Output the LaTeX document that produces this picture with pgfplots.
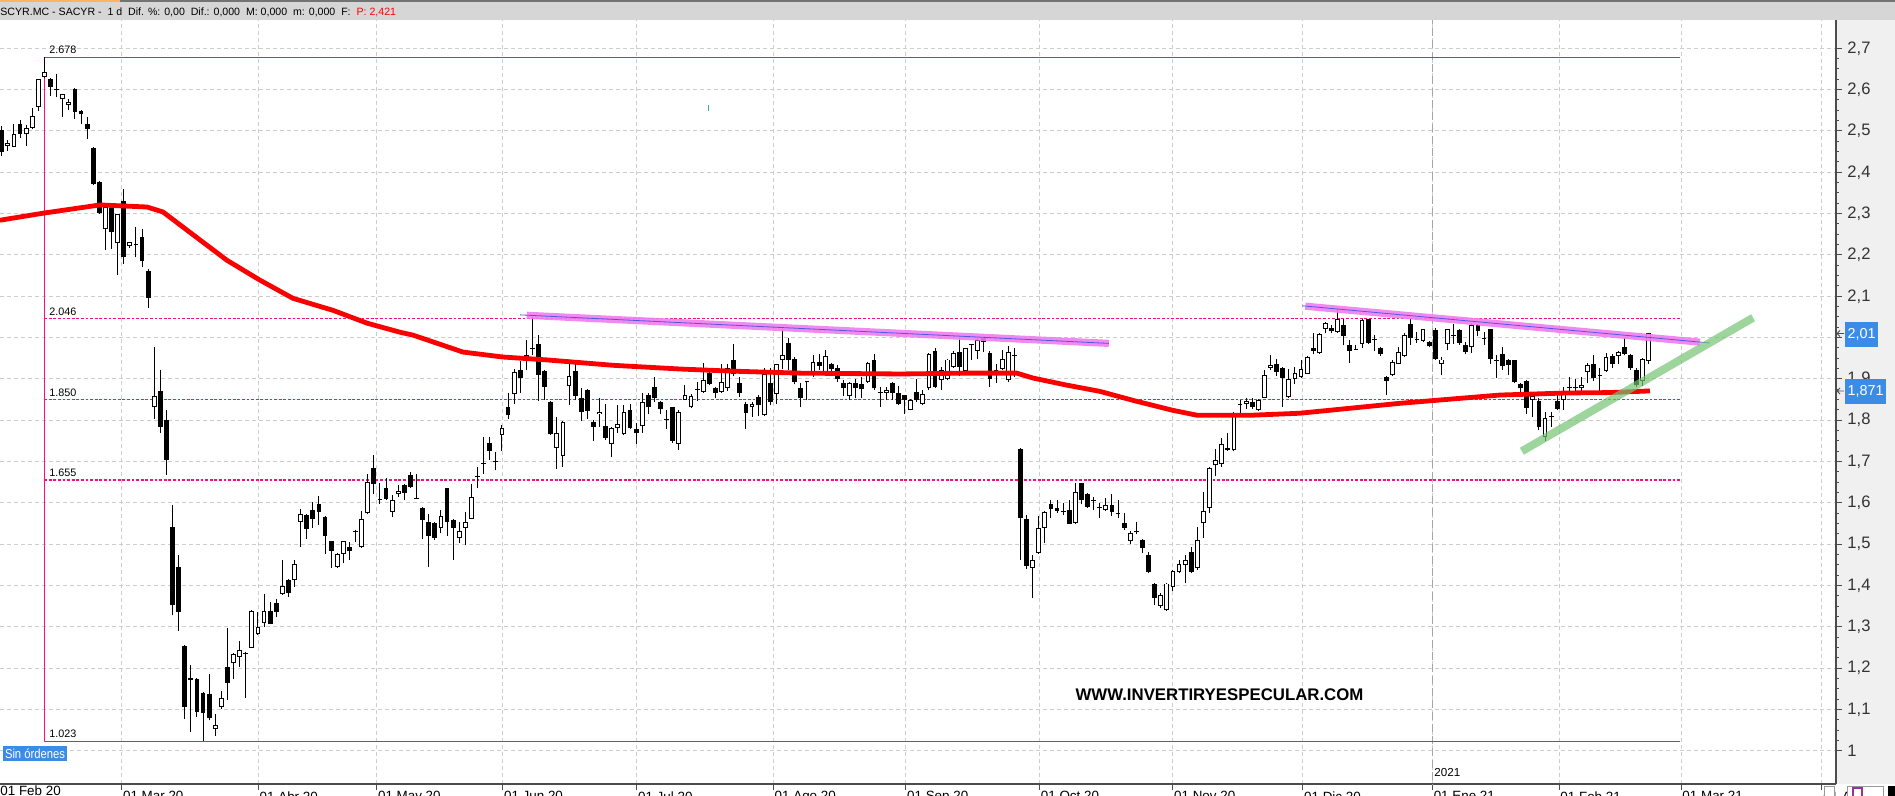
\documentclass[border=0pt]{standalone}
\usepackage{pgfplots}
\pgfplotsset{compat=1.18}
\usepackage{pgfplotstable}
\usepackage{fontspec}
\setmainfont{Liberation Sans}
\definecolor{mag}{RGB}{255,10,135}
\definecolor{gridc}{RGB}{205,205,205}
\definecolor{maR}{RGB}{250,0,0}
\definecolor{trpink}{RGB}{238,125,238}
\definecolor{trline}{RGB}{85,85,225}
\definecolor{trgreen}{RGB}{115,195,115}
\definecolor{boxblue}{RGB}{58,140,230}
\definecolor{panel}{RGB}{240,240,240}
\definecolor{hdr}{RGB}{214,214,214}

\pgfplotstableread{
i o h l c
1 2.502 2.512 2.439 2.450
2 2.463 2.478 2.452 2.470
3 2.462 2.518 2.460 2.492
4 2.516 2.526 2.482 2.492
5 2.492 2.514 2.463 2.506
6 2.508 2.555 2.504 2.536
7 2.559 2.625 2.549 2.625
8 2.630 2.678 2.628 2.642
9 2.625 2.627 2.584 2.607
10 2.601 2.639 2.581 2.599
11 2.577 2.589 2.534 2.589
12 2.564 2.577 2.551 2.570
13 2.601 2.603 2.530 2.546
14 2.548 2.551 2.518 2.540
15 2.516 2.533 2.480 2.504
16 2.458 2.460 2.369 2.371
17 2.376 2.378 2.300 2.302
18 2.262 2.325 2.213 2.317
19 2.313 2.325 2.215 2.256
20 2.228 2.300 2.151 2.300
21 2.331 2.359 2.179 2.194
22 2.222 2.232 2.217 2.232
23 2.226 2.268 2.194 2.224
24 2.244 2.262 2.171 2.186
25 2.161 2.165 2.072 2.096
26 1.831 1.977 1.804 1.858
27 1.870 1.921 1.768 1.784
28 1.800 1.824 1.667 1.703
29 1.542 1.594 1.328 1.352
30 1.445 1.473 1.291 1.336
31 1.253 1.255 1.078 1.106
32 1.176 1.207 1.045 1.172
33 1.174 1.176 1.082 1.094
34 1.140 1.142 1.024 1.091
35 1.137 1.187 1.074 1.080
36 1.054 1.090 1.037 1.062
37 1.106 1.144 1.102 1.128
38 1.203 1.298 1.122 1.164
39 1.212 1.237 1.174 1.235
40 1.228 1.267 1.203 1.243
41 1.236 1.239 1.128 1.234
42 1.250 1.340 1.250 1.338
43 1.283 1.336 1.281 1.299
44 1.309 1.379 1.299 1.338
45 1.338 1.360 1.306 1.308
46 1.359 1.368 1.324 1.336
47 1.380 1.463 1.378 1.400
48 1.414 1.416 1.372 1.382
49 1.414 1.461 1.396 1.451
50 1.554 1.586 1.493 1.572
51 1.570 1.572 1.513 1.538
52 1.582 1.602 1.540 1.562
53 1.598 1.616 1.546 1.578
54 1.566 1.568 1.477 1.521
55 1.507 1.509 1.443 1.484
56 1.446 1.479 1.443 1.477
57 1.477 1.509 1.454 1.507
58 1.493 1.505 1.461 1.484
59 1.531 1.534 1.505 1.529
60 1.493 1.580 1.491 1.560
61 1.575 1.669 1.573 1.650
62 1.685 1.715 1.622 1.645
63 1.610 1.647 1.597 1.608
64 1.637 1.661 1.606 1.610
65 1.578 1.618 1.566 1.608
66 1.621 1.643 1.614 1.630
67 1.643 1.646 1.608 1.624
68 1.667 1.675 1.637 1.639
69 1.611 1.669 1.609 1.609
70 1.588 1.590 1.513 1.559
71 1.554 1.574 1.446 1.519
72 1.551 1.553 1.511 1.516
73 1.540 1.584 1.526 1.568
74 1.635 1.637 1.521 1.554
75 1.559 1.561 1.463 1.540
76 1.516 1.554 1.503 1.532
77 1.540 1.578 1.497 1.554
78 1.562 1.645 1.560 1.614
79 1.665 1.687 1.635 1.663
80 1.696 1.759 1.671 1.694
81 1.745 1.759 1.705 1.726
82 1.700 1.723 1.679 1.698
83 1.764 1.788 1.726 1.782
84 1.831 1.866 1.804 1.812
85 1.863 1.925 1.839 1.917
86 1.921 1.944 1.865 1.903
87 1.945 1.995 1.922 1.957
88 1.975 2.050 1.957 1.973
89 1.984 2.006 1.847 1.909
90 1.919 1.921 1.850 1.881
91 1.844 1.846 1.764 1.766
92 1.734 1.808 1.683 1.769
93 1.713 1.798 1.687 1.796
94 1.882 1.937 1.836 1.907
95 1.919 1.937 1.848 1.858
96 1.855 1.877 1.798 1.820
97 1.873 1.875 1.804 1.823
98 1.796 1.800 1.750 1.784
99 1.814 1.855 1.784 1.819
100 1.785 1.840 1.753 1.756
101 1.743 1.784 1.710 1.782
102 1.782 1.836 1.769 1.790
103 1.766 1.836 1.764 1.820
104 1.826 1.839 1.780 1.782
105 1.780 1.793 1.742 1.768
106 1.785 1.865 1.769 1.844
107 1.860 1.865 1.815 1.831
108 1.881 1.905 1.844 1.853
109 1.844 1.846 1.815 1.828
110 1.803 1.826 1.780 1.801
111 1.831 1.833 1.745 1.750
112 1.743 1.826 1.727 1.820
113 1.850 1.885 1.848 1.860
114 1.831 1.863 1.829 1.858
115 1.875 1.893 1.847 1.873
116 1.868 1.939 1.866 1.898
117 1.914 1.927 1.885 1.887
118 1.877 1.881 1.855 1.866
119 1.868 1.936 1.866 1.893
120 1.879 1.936 1.871 1.927
121 1.947 1.984 1.906 1.911
122 1.890 1.905 1.856 1.865
123 1.840 1.844 1.780 1.818
124 1.831 1.844 1.808 1.840
125 1.856 1.860 1.810 1.836
126 1.812 1.927 1.810 1.911
127 1.889 1.927 1.836 1.844
128 1.863 1.937 1.839 1.935
129 1.947 2.022 1.925 1.957
130 1.987 2.000 1.922 1.947
131 1.949 1.953 1.887 1.893
132 1.879 1.890 1.831 1.855
133 1.894 1.895 1.848 1.892
134 1.909 1.957 1.905 1.941
135 1.941 1.960 1.922 1.931
136 1.917 1.971 1.915 1.955
137 1.937 1.939 1.914 1.925
138 1.927 1.933 1.893 1.901
139 1.889 1.897 1.858 1.877
140 1.858 1.893 1.848 1.890
141 1.889 1.901 1.853 1.877
142 1.887 1.905 1.855 1.875
143 1.893 1.941 1.891 1.939
144 1.947 1.960 1.873 1.877
145 1.869 1.881 1.832 1.867
146 1.866 1.881 1.848 1.873
147 1.889 1.893 1.850 1.865
148 1.866 1.882 1.837 1.839
149 1.860 1.862 1.815 1.848
150 1.826 1.852 1.824 1.850
151 1.868 1.901 1.844 1.848
152 1.840 1.873 1.838 1.863
153 1.877 1.962 1.874 1.960
154 1.968 1.976 1.879 1.881
155 1.898 1.929 1.873 1.922
156 1.901 1.949 1.897 1.947
157 1.929 1.968 1.927 1.962
158 1.965 1.998 1.906 1.929
159 1.919 1.976 1.917 1.974
160 1.983 1.985 1.947 1.981
161 1.968 1.998 1.949 1.995
162 1.998 2.000 1.965 1.990
163 1.962 1.968 1.881 1.901
164 1.920 1.937 1.889 1.918
165 1.925 1.971 1.922 1.949
166 1.898 1.979 1.893 1.965
167 1.958 1.974 1.905 1.956
168 1.731 1.733 1.463 1.564
169 1.562 1.570 1.441 1.447
170 1.443 1.473 1.371 1.463
171 1.479 1.568 1.477 1.540
172 1.540 1.580 1.503 1.578
173 1.598 1.608 1.564 1.586
174 1.588 1.608 1.575 1.580
175 1.579 1.600 1.570 1.577
176 1.584 1.608 1.548 1.550
177 1.551 1.648 1.549 1.626
178 1.647 1.649 1.598 1.606
179 1.621 1.623 1.588 1.590
180 1.607 1.614 1.584 1.605
181 1.589 1.600 1.564 1.587
182 1.584 1.613 1.580 1.595
183 1.594 1.621 1.568 1.578
184 1.575 1.608 1.564 1.573
185 1.551 1.576 1.534 1.540
186 1.508 1.532 1.500 1.526
187 1.531 1.554 1.524 1.529
188 1.511 1.513 1.479 1.492
189 1.475 1.481 1.430 1.433
190 1.405 1.407 1.352 1.371
191 1.350 1.382 1.346 1.376
192 1.340 1.407 1.338 1.405
193 1.396 1.437 1.387 1.435
194 1.433 1.461 1.431 1.451
195 1.449 1.473 1.406 1.463
196 1.481 1.493 1.431 1.433
197 1.443 1.542 1.438 1.511
198 1.551 1.626 1.516 1.580
199 1.588 1.687 1.575 1.685
200 1.691 1.731 1.664 1.705
201 1.693 1.756 1.687 1.742
202 1.734 1.768 1.726 1.729
203 1.727 1.820 1.725 1.816
204 1.840 1.848 1.812 1.838
205 1.839 1.855 1.828 1.847
206 1.844 1.855 1.828 1.833
207 1.824 1.852 1.822 1.848
208 1.855 1.922 1.853 1.909
209 1.927 1.957 1.922 1.933
210 1.937 1.949 1.906 1.917
211 1.927 1.929 1.833 1.903
212 1.856 1.925 1.854 1.901
213 1.901 1.929 1.887 1.914
214 1.905 1.945 1.903 1.925
215 1.913 1.955 1.911 1.953
216 1.976 2.010 1.960 1.968
217 1.962 2.010 1.960 2.008
218 2.022 2.038 2.010 2.036
219 2.024 2.030 2.010 2.016
220 2.014 2.069 2.011 2.044
221 2.030 2.044 1.982 2.003
222 1.982 1.995 1.939 1.968
223 1.973 1.982 1.969 1.971
224 1.984 2.044 1.974 2.042
225 2.044 2.046 1.984 1.987
226 1.996 2.006 1.968 1.994
227 1.976 1.978 1.955 1.960
228 1.905 1.907 1.861 1.896
229 1.909 1.945 1.906 1.941
230 1.937 1.977 1.935 1.965
231 1.955 2.010 1.953 2.006
232 2.034 2.044 1.982 1.998
233 1.996 2.014 1.987 1.994
234 1.992 2.022 1.990 2.020
235 1.990 1.992 1.977 1.979
236 2.018 2.024 1.947 1.949
237 1.937 1.952 1.909 1.947
238 1.984 2.022 1.971 2.020
239 2.007 2.032 1.985 2.005
240 2.018 2.020 1.982 1.987
241 1.982 1.990 1.960 1.965
242 1.977 2.036 1.963 2.030
243 2.030 2.034 2.003 2.016
244 1.999 2.014 1.982 1.997
245 2.020 2.022 1.937 1.949
246 1.947 1.957 1.902 1.944
247 1.960 1.977 1.922 1.931
248 1.947 1.949 1.909 1.933
249 1.945 1.947 1.890 1.893
250 1.887 1.889 1.868 1.877
251 1.895 1.897 1.816 1.830
252 1.848 1.866 1.808 1.858
253 1.847 1.855 1.777 1.784
254 1.759 1.820 1.750 1.806
255 1.810 1.820 1.784 1.808
256 1.847 1.865 1.824 1.828
257 1.850 1.881 1.824 1.865
258 1.880 1.905 1.865 1.878
259 1.879 1.901 1.865 1.877
260 1.877 1.905 1.868 1.885
261 1.917 1.939 1.889 1.933
262 1.937 1.957 1.896 1.903
263 1.910 1.927 1.871 1.908
264 1.919 1.963 1.917 1.953
265 1.955 1.960 1.927 1.936
266 1.955 1.968 1.936 1.965
267 1.977 1.998 1.957 1.960
268 1.957 1.960 1.921 1.927
269 1.921 1.927 1.881 1.885
270 1.895 1.951 1.882 1.949
271 1.944 2.012 1.937 2.010
}\candles

\begin{document}
\begin{tikzpicture}
\begin{scope}[x=0.5pt,y=-0.5pt]
\fill[panel] (1836,20) rectangle (1895,784);
\end{scope}
\begin{axis}[
  at={(0pt,-392pt)}, anchor=south west,
  scale only axis, width=918pt, height=382pt,
  xmin=0.721, xmax=301.70, ymin=0.91986, ymax=2.7685,
  axis x line=bottom, axis y line=right,
  axis line style={-, black!70, line width=0.6pt},
  tick align=outside,
  major tick length=3pt, minor tick length=1.5pt,
  tick style={black!70, line width=0.5pt},
  minor y tick num=3,
  ytick={1,1.1,1.2,1.3,1.4,1.5,1.6,1.7,1.8,1.9,2,2.1,2.2,2.3,2.4,2.5,2.6,2.7},
  /pgf/number format/fixed,
  /pgf/number format/precision=1,
  /pgf/number format/use comma,
  /pgf/number format/assume math mode=true,
  yticklabel style={font=\fontsize{8.3}{9}\selectfont, text=black!80, anchor=west, inner sep=0pt, xshift=2.5pt},
  xtick={20.67,43.07,62.47,83.13,105.1,127.49,149.2,171.13,192.97,214.28,235.53,256.3,276.3,299.4},
  xticklabels={01 Mar 20,01 Abr 20,01 May 20,01 Jun 20,01 Jul 20,01 Ago 20,01 Sep 20,01 Oct 20,01 Nov 20,01 Dic 20,01 Ene 21,01 Feb 21,01 Mar 21,01 Abr 21},
  xticklabel style={font=\fontsize{6.7}{7}\selectfont, anchor=north west, inner sep=0pt, xshift=0.5pt, yshift=-0.5pt},
  xmajorgrids, ymajorgrids,
  major grid style={gridc, dash pattern=on 2pt off 1.5pt, line width=0.5pt},
]
% year separator
\addplot[black!35, dash pattern=on 4pt off 2pt, line width=0.5pt] coordinates {(235.53,0.9) (235.53,2.8)};
% magenta levels
\addplot[mag, line width=0.75pt] coordinates {(7.98,2.678) (276.1,2.678)};
\addplot[mag, line width=0.75pt] coordinates {(7.98,1.023) (276.1,1.023)};
\addplot[mag, line width=0.75pt] coordinates {(7.98,1.023) (7.98,2.678)};
\addplot[mag, line width=0.7pt, dash pattern=on 1.4pt off 0.9pt] coordinates {(7.98,2.046) (276.1,2.046)};
\addplot[mag, line width=0.7pt, dash pattern=on 1.4pt off 0.9pt] coordinates {(7.98,1.850) (276.1,1.850)};
\addplot[mag, line width=0.7pt, dash pattern=on 1.4pt off 0.9pt] coordinates {(7.98,1.655) (276.1,1.655)};
\addplot[teal!70, line width=0.5pt] coordinates {(116.8,2.563) (116.8,2.548)};
% wicks
\addplot[draw=none, mark=none, error bars/.cd, y dir=plus, y explicit, error mark=none,
  error bar style={draw=black, line width=0.5pt, solid}]
  table[x=i, y=l, y error plus expr={\thisrow{h}-\thisrow{l}}] {\candles};
% bodies
\addplot[draw=none, mark=none, error bars/.cd, y dir=plus, y explicit, error mark=none,
  error bar style={draw=black, line width=2.4pt, line cap=butt, solid}]
  table[x=i, y expr={min(\thisrow{o},\thisrow{c})}, y error plus expr={max(abs(\thisrow{c}-\thisrow{o}),0.0025)}] {\candles};
% hollow inside
\addplot[draw=none, mark=none, error bars/.cd, y dir=plus, y explicit, error mark=none,
  error bar style={draw=white, line width=1.4pt, line cap=butt, solid}]
  table[x=i, y expr={\thisrow{o}+0.0024}, y error plus expr={max(\thisrow{c}-\thisrow{o}-0.0048,0)}] {\candles};
% moving average
\addplot[maR, line width=2.4pt, line join=round] coordinates {
(0.72,2.284) (7.77,2.301) (17.11,2.321) (24.82,2.316) (27.44,2.304) (31.38,2.260)
(37.93,2.187) (43.34,2.139) (48.75,2.095) (55.31,2.066) (60.89,2.035) (66.30,2.013)
(68.43,2.006) (76.62,1.965) (83.18,1.953) (90.39,1.946) (101.21,1.933) (112.2,1.924)
(120.4,1.919) (131.9,1.914) (148.3,1.912) (159.2,1.914) (167.4,1.914) (170.1,1.902)
(175.6,1.885) (181.0,1.870) (186.5,1.848) (193.0,1.824) (197.0,1.812) (205.6,1.812)
(213.8,1.817) (230.2,1.841) (246.6,1.861) (257.6,1.866) (264.7,1.867) (271.2,1.871)};
% trendlines
\addplot[trpink, line width=3.6pt, opacity=0.9] coordinates {(87.06,2.054) (182.5,1.986)};
\addplot[trline, line width=0.4pt] coordinates {(86.0,2.055) (182.5,1.986)};
\addplot[trpink, line width=3.6pt, opacity=0.9] coordinates {(214.7,2.076) (279.4,1.989)};
\addplot[trline, line width=0.4pt] coordinates {(214.2,2.077) (281.0,1.987)};
\addplot[trgreen, line width=4pt, opacity=0.7] coordinates {(250.2,1.725) (288.1,2.048)};
% level labels
\node[anchor=south west, inner sep=0pt, font=\fontsize{5.4}{6}\selectfont] at (axis cs:8.75,2.678) [yshift=1.5pt] {2.678};
\node[anchor=south west, inner sep=0pt, font=\fontsize{5.4}{6}\selectfont] at (axis cs:8.75,2.046) [yshift=1.5pt] {2.046};
\node[anchor=south west, inner sep=0pt, font=\fontsize{5.4}{6}\selectfont] at (axis cs:8.75,1.850) [yshift=1.5pt] {1.850};
\node[anchor=south west, inner sep=0pt, font=\fontsize{5.4}{6}\selectfont] at (axis cs:8.75,1.655) [yshift=1.5pt] {1.655};
\node[anchor=south west, inner sep=0pt, font=\fontsize{5.4}{6}\selectfont] at (axis cs:8.75,1.023) [yshift=1.5pt] {1.023};
\end{axis}
\begin{scope}[x=0.5pt,y=-0.5pt]
% header
\fill[hdr] (0,0) rectangle (1895,20);
\draw[black!55, line width=1pt] (0,1) -- (1895,1);
\fill[orange!60] (0,0) rectangle (120,2);
\node[anchor=west, inner sep=0pt, font=\fontsize{5.3}{6}\selectfont] at (0,12.5)
  {SCYR.MC - SACYR -\ \ 1 d\ \ Dif. \%: 0,00\ \ Dif.: 0,000\ \ M: 0,000\ \ m: 0,000\ \ F:\ \ \textcolor{red}{P: 2,421}};
% Feb label (cut)
\node[anchor=north west, inner sep=0pt, font=\fontsize{6.7}{7}\selectfont] at (0,785) {01 Feb 20};
% 2021
\node[anchor=west, inner sep=0pt, font=\fontsize{5.8}{6}\selectfont] at (1434,773) {2021};
% Sin ordenes
\fill[boxblue] (2.7,746) rectangle (67.3,760.7);
\node[inner sep=0pt, text=white, font=\fontsize{6.5}{7}\selectfont] at (35,753.3) {\resizebox{30pt}{\height}{Sin órdenes}};
% watermark
\node[inner sep=0pt, font=\bfseries\fontsize{8.4}{9}\selectfont] at (1219.5,695) {WWW.INVERTIRYESPECULAR.COM};
% value boxes
\fill[boxblue] (1845,322) rectangle (1878,347);
\node[inner sep=0pt, text=white, font=\fontsize{7.2}{8}\selectfont] at (1861.5,334.5) {2,01};
\fill[boxblue] (1845,379) rectangle (1886,404);
\node[inner sep=0pt, text=white, font=\fontsize{7.2}{8}\selectfont] at (1865.5,391.5) {1,871};
\draw[black!70, line width=0.4pt] (1837,333.5) -- (1844,333.5) (1837,333.5) -- (1840,330.5) (1837,333.5) -- (1840,336.5);
\draw[black!70, line width=0.4pt] (1837,391) -- (1844,391) (1837,391) -- (1840,388) (1837,391) -- (1840,394);
% bottom-right icons
\draw[black!40, line width=0.5pt, fill=white] (1824,786) rectangle (1834,797);
\draw[black!40, line width=0.5pt, fill=white] (1847,786) rectangle (1883,797);
\draw[violet!80, line width=1pt] (1853,788) rectangle (1862,797);
\fill[black] (1888,786) rectangle (1895,797);
\end{scope}
\pgfresetboundingbox
\useasboundingbox (0pt,0pt) rectangle (947.5pt,-398pt);
\end{tikzpicture}
\end{document}
